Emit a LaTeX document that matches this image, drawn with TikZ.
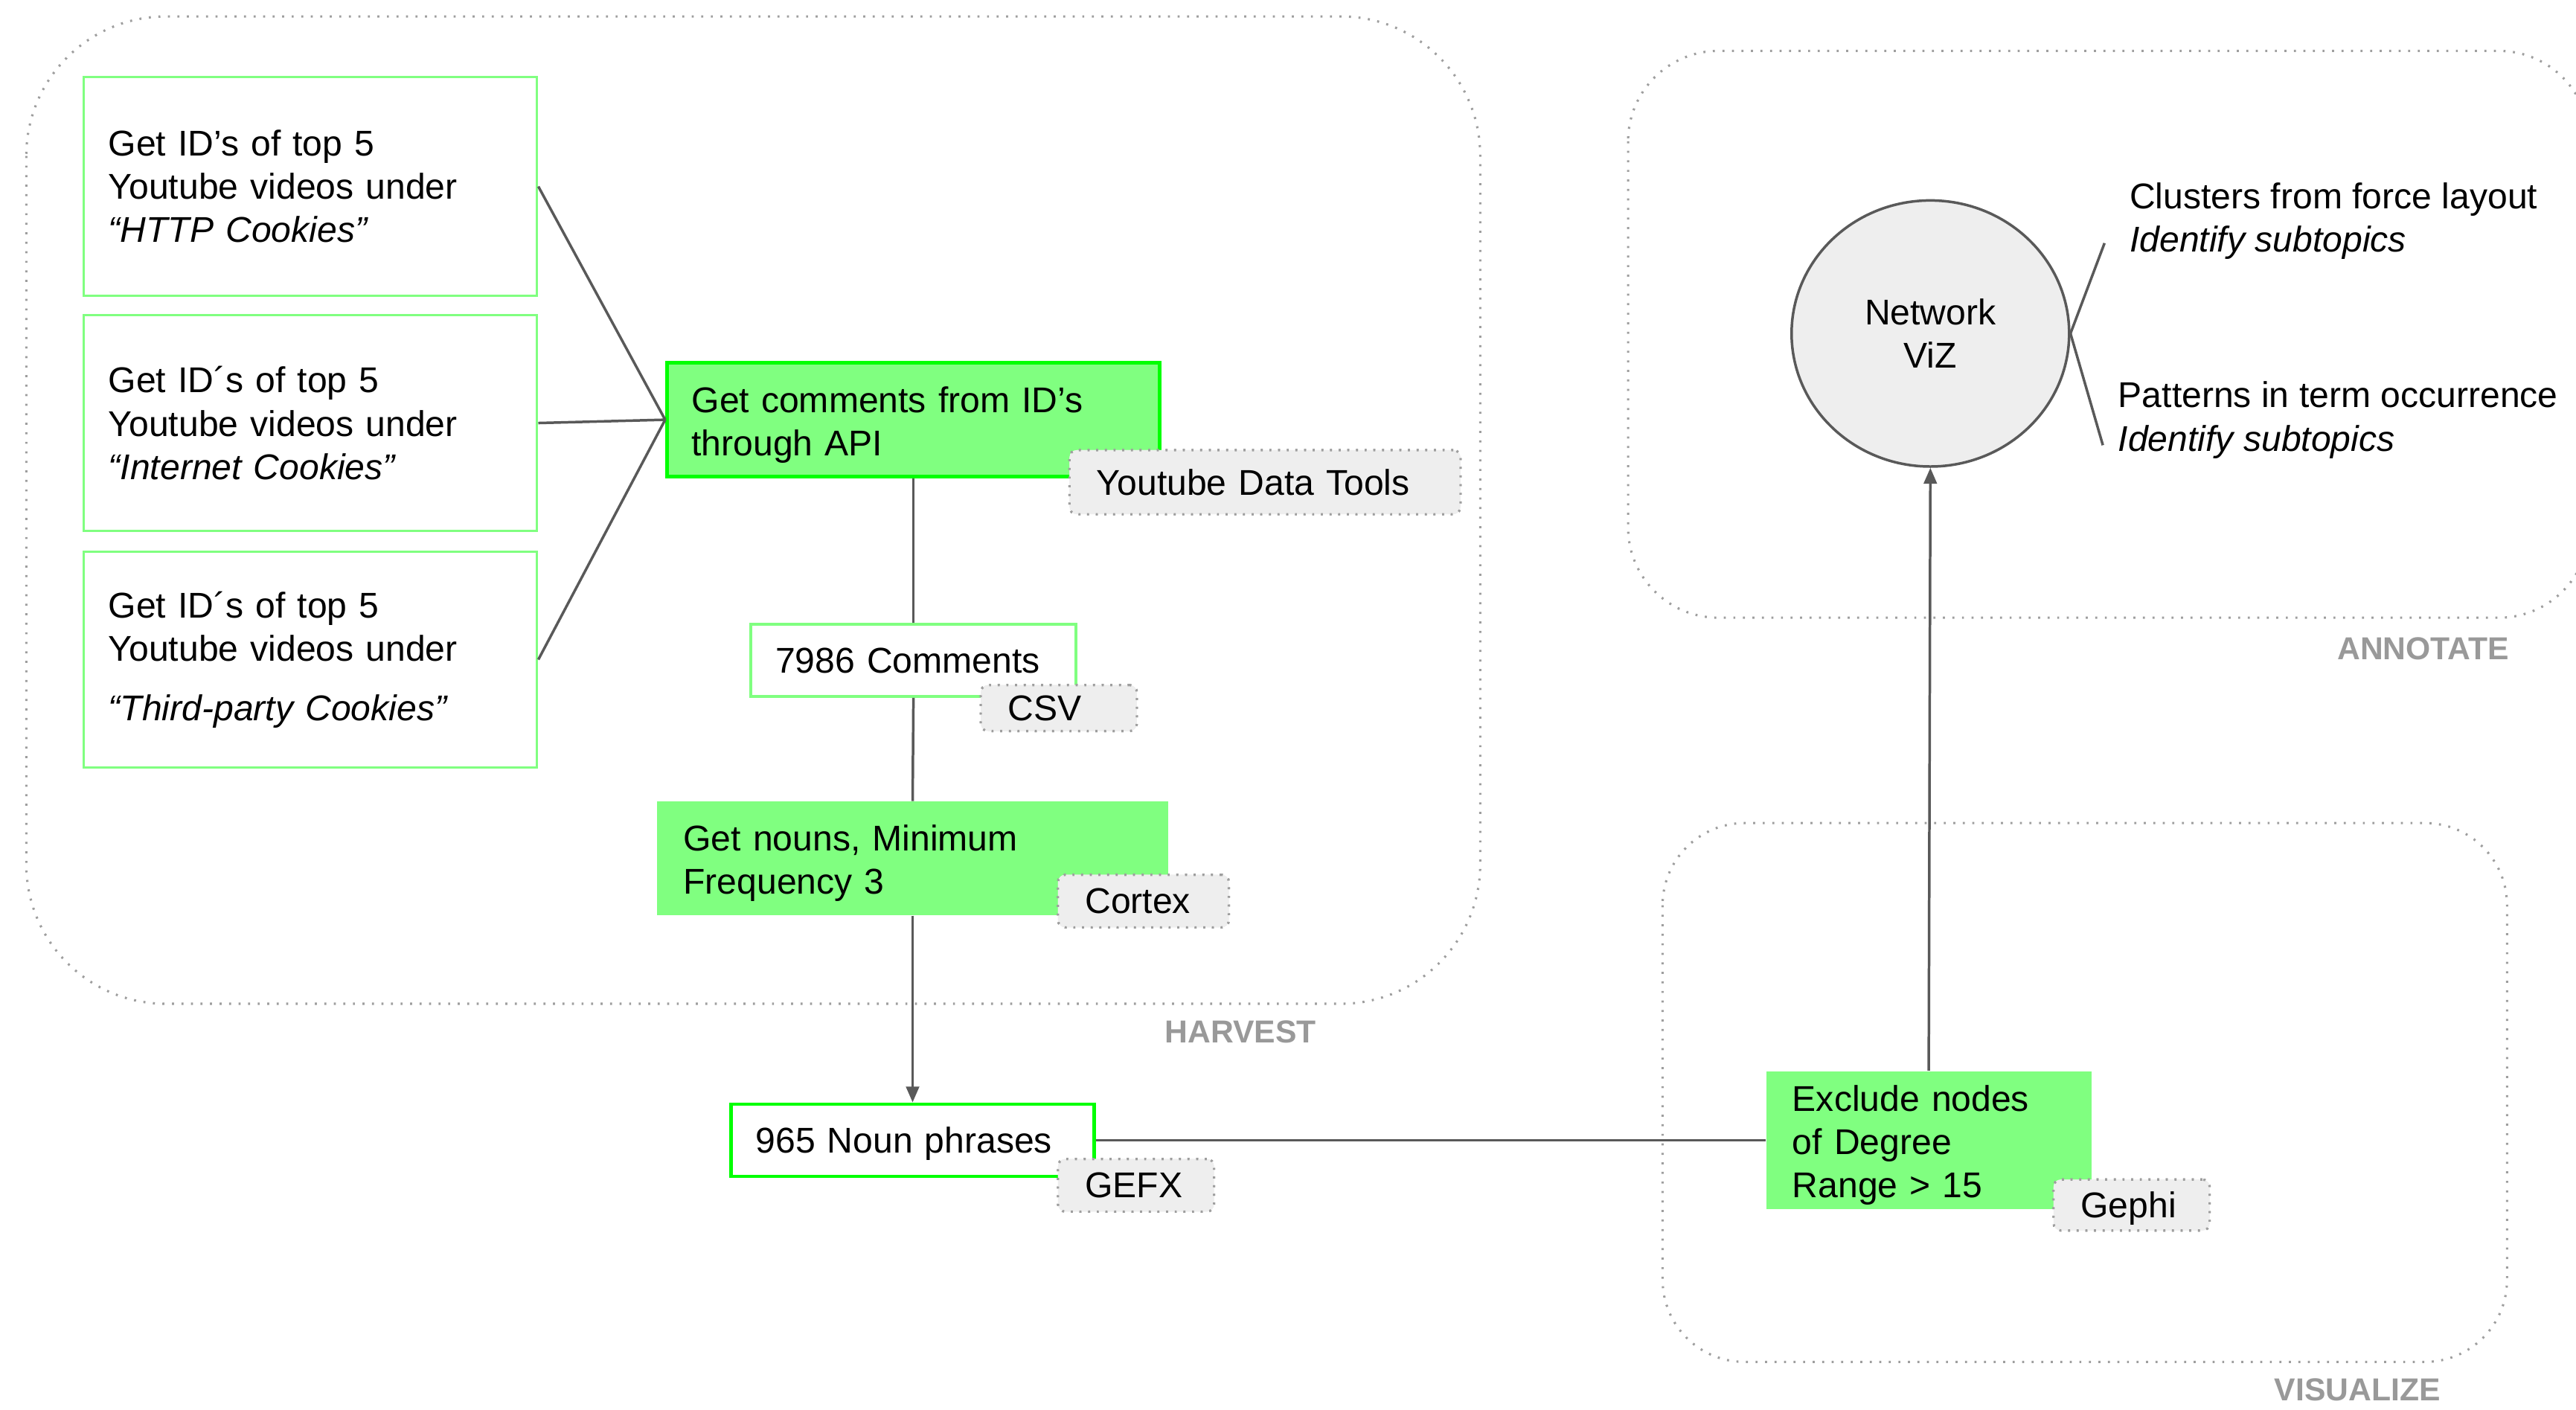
\documentclass[tikz,border=0pt]{standalone}
\usepackage{fontspec}
\setmainfont{Liberation Sans}
\usetikzlibrary{shapes.geometric,arrows.meta}
\definecolor{lgreen}{HTML}{80FF80}
\definecolor{bgreen}{HTML}{00FF00}
\definecolor{taggray}{HTML}{EEEEEE}
\definecolor{dotgray}{HTML}{9E9E9E}
\definecolor{linegray}{HTML}{595959}
\definecolor{labgray}{HTML}{999999}
\newcommand{\tstrut}{\rule{0pt}{12.5pt}}
\newcommand{\nstrut}{\rule{0pt}{11.5pt}}
\begin{document}
\begin{tikzpicture}[x=0.02cm,y=-0.02cm,
  font=\fontsize{12.4}{15}\selectfont,
  container/.style={draw=dotgray, line width=0.8pt, dash pattern=on 0.7pt off 2.6pt},
  basebox/.style={rectangle, inner ysep=0pt, align=left, anchor=center},
  oneline/.style={text depth=0pt},
  idbox/.style={basebox, draw=lgreen, line width=0.8pt, fill=white, inner xsep=0.3cm, text width=4.92cm},
  whitebox/.style={basebox, oneline, fill=white, line width=0.9pt},
  greenbox/.style={basebox, fill=lgreen},
  tagbox/.style={basebox, oneline, fill=taggray, draw=dotgray, line width=0.8pt, dash pattern=on 0.7pt off 2.3pt, rounded corners=2.5pt, inner xsep=0.33cm},
  conn/.style={draw=linegray, line width=0.9pt},
  arr/.style={conn, -{Triangle[length=5.5pt, width=4.5pt]}},
  lab/.style={font=\fontsize{11}{13}\selectfont\bfseries, text=labgray},
  note/.style={anchor=west, align=left, inner sep=0pt}
]
\useasboundingbox (0,0) rectangle (1568,858);

% containers
\draw[container, rounded corners=1.7cm] (16,10) rectangle (901,611);
\begin{scope}
\clip (0,0) rectangle (1568,858);
\draw[container, rounded corners=1.1cm] (991,31) rectangle (1576,376);
\end{scope}
\draw[container, rounded corners=1cm] (1012,501) rectangle (1526,829);

\node[lab] (lharvest) at (755,628) {HARVEST};
\node[lab] (lannotate) at (1475,395) {ANNOTATE};
\node[lab] (lvisualize) at (1435,846) {VISUALIZE};

% ID boxes
\node[idbox, minimum height=2.66cm] (b1) at (189,113.5)
  {Get ID’s of top 5\\Youtube videos under\\\textit{“HTTP Cookies”}};
\node[idbox, minimum height=2.62cm] (b2) at (189,257.5)
  {Get ID´s of top 5\\Youtube videos under\\\textit{“Internet Cookies”}};
\node[idbox, minimum height=2.62cm] (b3) at (189,401.5)
  {Get ID´s of top 5\\Youtube videos under\\[5.5pt]\textit{“Third-party Cookies”}};

% harvest chain
\node[greenbox, draw=bgreen, line width=1.3pt, inner xsep=0.3cm, text width=5.4cm, minimum height=1.38cm] (g1) at (556,255.5)
  {\tstrut Get comments from ID’s\\through API};
\node[tagbox, text width=4.1cm, minimum height=0.78cm] (tyt) at (770,293.5) {Youtube Data Tools};

\node[whitebox, draw=lgreen, inner xsep=0.3cm, text width=3.36cm, minimum height=0.88cm] (c) at (556,402) {7986 Comments};
\node[tagbox, text width=1.24cm, minimum height=0.56cm] (tcsv) at (644.5,431) {CSV};

\node[greenbox, inner xsep=0.32cm, text width=5.58cm, minimum height=1.38cm] (g2) at (555.5,522.5)
  {\tstrut Get nouns, Minimum\\Frequency 3};
\node[tagbox, text width=1.42cm, minimum height=0.64cm] (tcortex) at (696,548.5) {Cortex};

\node[whitebox, draw=bgreen, line width=1.1pt, inner xsep=0.3cm, text width=3.82cm, minimum height=0.88cm] (n) at (555.5,694) {965 Noun phrases};
\node[tagbox, text width=1.24cm, minimum height=0.64cm] (tgefx) at (691.5,721.5) {GEFX};

% visualize
\node[greenbox, inner xsep=0.32cm, text width=3.32cm, minimum height=1.68cm] (g3) at (1174,694)
  {\tstrut Exclude nodes\\of Degree\\Range > 15};
\node[tagbox, text width=1.24cm, minimum height=0.62cm] (tgephi) at (1297.5,733.5) {Gephi};

% annotate
\node[ellipse, draw=linegray, line width=0.9pt, fill=taggray, minimum width=3.38cm, minimum height=3.24cm, inner sep=0pt, align=center] (nv) at (1175,203)
  {Network\\ViZ};
\node[note] (n1) at (1296,132.5) {\nstrut Clusters from force layout\\\textit{Identify subtopics}};
\node[note] (n2) at (1289,253.5) {\nstrut Patterns in term occurrence\\\textit{Identify subtopics}};
\coordinate (e1) at (1281,148);
\coordinate (e2) at (1280,271);

% connectors
\draw[conn] (b1.east) -- (g1.west);
\draw[conn] (b2.east) -- (g1.west);
\draw[conn] (b3.east) -- (g1.west);
\draw[conn] (g1.south) -- (c.north);
\draw[conn] (c.south) -- (g2.north);
\draw[arr] (g2.south) -- (n.north);
\draw[conn] (n.east) -- (g3.west);
\draw[arr] (g3.north) -- (nv.south);
\draw[conn] (nv.east) -- (e1);
\draw[conn] (nv.east) -- (e2);

% redraw tags on top of connectors
\node[tagbox, text width=4.1cm, minimum height=0.78cm] at (tyt) {Youtube Data Tools};
\node[tagbox, text width=1.24cm, minimum height=0.56cm] at (tcsv) {CSV};
\node[tagbox, text width=1.42cm, minimum height=0.64cm] at (tcortex) {Cortex};
\node[tagbox, text width=1.24cm, minimum height=0.64cm] at (tgefx) {GEFX};
\node[tagbox, text width=1.24cm, minimum height=0.62cm] at (tgephi) {Gephi};
\end{tikzpicture}
\end{document}
